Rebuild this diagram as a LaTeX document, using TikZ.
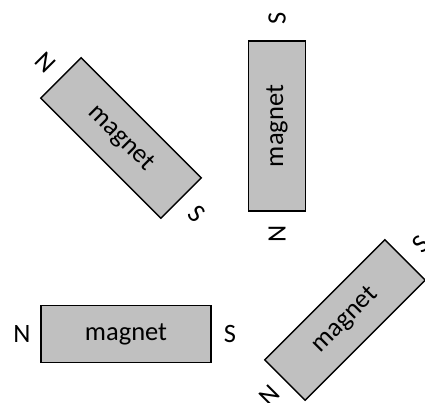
\documentclass[tikz,border=0pt]{standalone}
\usepackage{fontspec}
\setmainfont{Carlito}
\begin{document}
\begin{tikzpicture}[x=1pt,y=1pt,
  magbox/.style={draw=black, line width=1.4pt, fill={rgb,255:red,192;green,192;blue,192},
    minimum width=170pt, minimum height=57pt, inner sep=0pt, transform shape,
    font=\fontsize{26.5}{30}\selectfont},
  pole/.style={inner sep=0pt, transform shape, font=\fontsize{26.5}{30}\selectfont}]
\useasboundingbox (0,0) rectangle (425,403);
% top-left magnet
\begin{scope}[shift={(121,265)}, rotate=-45]
  \node[magbox] (a) at (0,0) {magnet};
  \node[pole] (aN) at (-107,0) {N};
  \node[pole] (aS) at (107,0) {S};
\end{scope}
% vertical magnet
\begin{scope}[shift={(277,277)}, rotate=90]
  \node[magbox] (b) at (0,0) {magnet};
  \node[pole] (bN) at (-108,0) {N};
  \node[pole] (bS) at (108,0) {S};
\end{scope}
% horizontal magnet
\begin{scope}[shift={(126,69)}]
  \node[magbox] (c) at (0,0) {magnet};
  \node[pole] (cN) at (-104,0) {N};
  \node[pole] (cS) at (104,0) {S};
\end{scope}
% bottom-right magnet
\begin{scope}[shift={(345,83)}, rotate=45]
  \node[magbox] (d) at (0,0) {magnet};
  \node[pole] (dN) at (-107,0) {N};
  \node[pole] (dS) at (107,0) {S};
\end{scope}
\end{tikzpicture}
\end{document}
